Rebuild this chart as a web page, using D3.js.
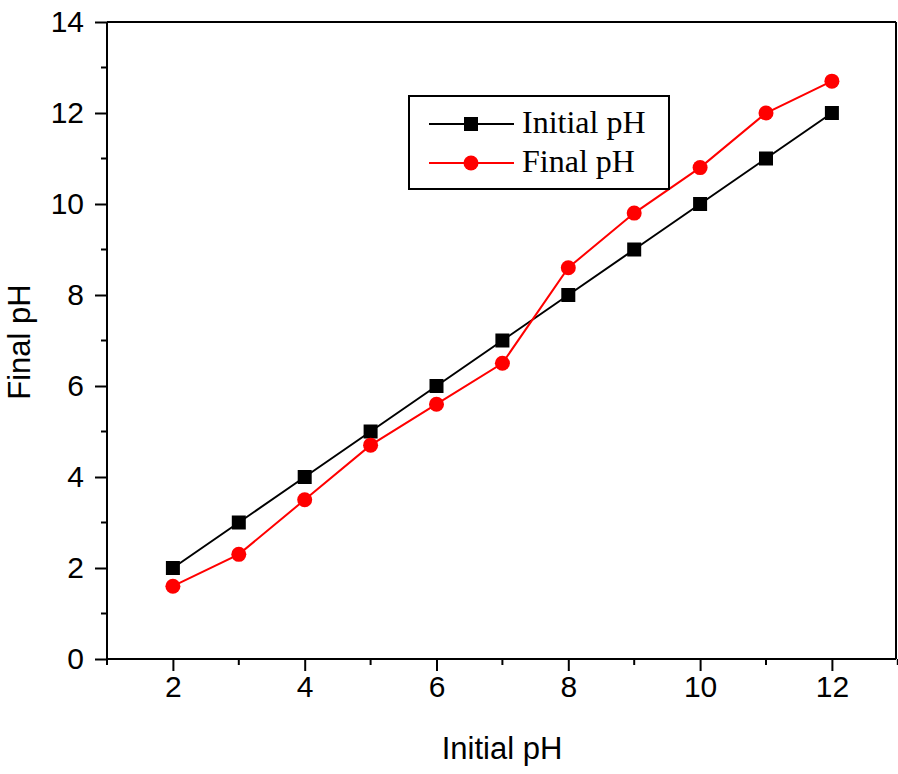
<!DOCTYPE html>
<html><head><meta charset="utf-8">
<script src="https://cdn.jsdelivr.net/npm/d3@7"></script>
<style>body{margin:0;background:#fff}</style>
</head><body>
<svg id="c" width="898" height="774"></svg>
<script>
const xValues = [2,3,4,5,6,7,8,9,10,11,12];
const initialPH = [2,3,4,5,6,7,8,9,10,11,12];
const finalPH = [1.6,2.3,3.5,4.7,5.6,6.5,8.6,9.8,10.8,12.0,12.7];
const xTicks = [2,4,6,8,10,12];
const yTicks = [0,2,4,6,8,10,12,14];
const seriesNames = ["Initial pH","Final pH"];

const svg = d3.select("#c");
const L=107, R=896, T=22, B=659;
const x = d3.scaleLinear().domain([1,13]).range([L, L+12*(832-173)/10]);
const y = d3.scaleLinear().domain([0,14]).range([B,T]);
const sans = "Liberation Sans, Arial, sans-serif";
const serif = "Liberation Serif, Times New Roman, serif";

// frame top/right
svg.append("line").attr("x1",L).attr("x2",R).attr("y1",T).attr("y2",T).attr("stroke","#000").attr("stroke-width",2);
svg.append("line").attr("x1",R).attr("x2",R).attr("y1",T).attr("y2",B).attr("stroke","#000").attr("stroke-width",2);

// x axis
const xMinor = d3.range(1,14).filter(v=>!xTicks.includes(v));
const gx = svg.append("g").attr("transform",`translate(0,${B})`);
gx.call(d3.axisBottom(x).tickValues(xTicks).tickSize(12).tickSizeOuter(0).tickPadding(5));
gx.attr("font-size",30).attr("font-family",sans);
gx.append("g").selectAll("line").data(xMinor).join("line")
  .attr("x1",d=>x(d)).attr("x2",d=>x(d)).attr("y1",0).attr("y2",6).attr("stroke","#000").attr("stroke-width",2);
gx.select(".domain").attr("d",`M${L},0H${R}`).attr("stroke-width",2);
gx.selectAll(".tick line").attr("stroke-width",2);
gx.selectAll("text").attr("fill","#000");

// y axis
const yMinor = d3.range(1,14,2);
const gy = svg.append("g").attr("transform",`translate(${L},0)`);
gy.call(d3.axisLeft(y).tickValues(yTicks).tickSize(12).tickSizeOuter(0).tickPadding(11));
gy.attr("font-size",30).attr("font-family",sans);
gy.append("g").selectAll("line").data(yMinor).join("line")
  .attr("y1",d=>y(d)).attr("y2",d=>y(d)).attr("x1",0).attr("x2",-6).attr("stroke","#000").attr("stroke-width",2);
gy.select(".domain").attr("d",`M0,${B}V${T}`).attr("stroke-width",2);
gy.selectAll(".tick line").attr("stroke-width",2);
gy.selectAll("text").attr("fill","#000");

// axis titles
svg.append("text").attr("x",502).attr("y",759).attr("text-anchor","middle")
  .attr("font-family",sans).attr("font-size",31).text("Initial pH");
svg.append("text").attr("transform",`translate(30,342) rotate(-90)`).attr("text-anchor","middle")
  .attr("font-family",sans).attr("font-size",31).text("Final pH");

const line = d3.line().x((d,i)=>x(xValues[i])).y(d=>y(d));
svg.append("path").datum(initialPH).attr("d",line).attr("fill","none").attr("stroke","#000").attr("stroke-width",2);
svg.append("path").datum(finalPH).attr("d",line).attr("fill","none").attr("stroke","#ff0000").attr("stroke-width",2);
svg.append("g").selectAll("rect").data(initialPH).join("rect")
  .attr("x",(d,i)=>x(xValues[i])-7).attr("y",d=>y(d)-7).attr("width",14).attr("height",14).attr("fill","#000");
svg.append("g").selectAll("circle").data(finalPH).join("circle")
  .attr("cx",(d,i)=>x(xValues[i])).attr("cy",d=>y(d)).attr("r",7.5).attr("fill","#ff0000");

// legend
const lg = svg.append("g");
lg.append("rect").attr("x",409).attr("y",96).attr("width",260).attr("height",93)
  .attr("fill","#fff").attr("stroke","#000").attr("stroke-width",2);
const rows = [{y:124,color:"#000",shape:"square"},{y:163,color:"#ff0000",shape:"circle"}];
rows.forEach((r,i)=>{
  lg.append("line").attr("x1",429).attr("x2",514).attr("y1",r.y).attr("y2",r.y).attr("stroke",r.color).attr("stroke-width",2);
  if(r.shape==="square") lg.append("rect").attr("x",471-7).attr("y",r.y-7).attr("width",14).attr("height",14).attr("fill",r.color);
  else lg.append("circle").attr("cx",471).attr("cy",r.y).attr("r",7.5).attr("fill",r.color);
  lg.append("text").attr("x",522).attr("y",r.y+9).attr("font-family",serif).attr("font-size",32).text(seriesNames[i]);
});
</script>
</body></html>
